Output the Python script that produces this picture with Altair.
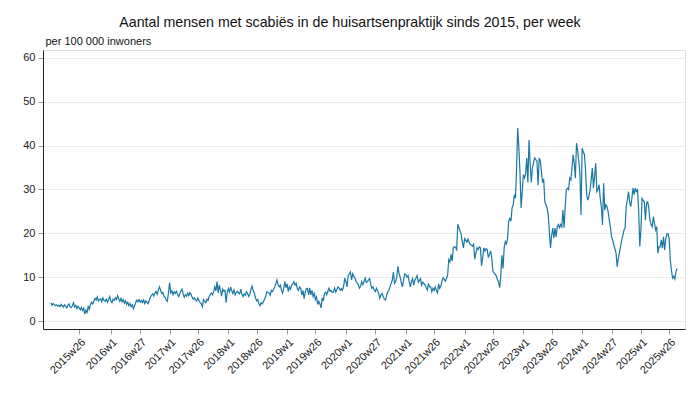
import altair as alt
import pandas as pd

years = [2015, 2016, 2017, 2018, 2019, 2020, 2021, 2022, 2023, 2024, 2025]

v2015 = [4.2, 3.6, 4.0, 3.8, 3.5, 3.7, 3.4, 3.6, 3.3, 3.8,
         3.5, 3.2, 3.7, 3.4, 3.0, 3.6, 3.9, 3.3, 3.1, 3.5,
         4.2, 3.2, 3.6, 2.8, 3.4, 3.0, 2.6, 3.1, 2.4, 2.9,
         1.6, 2.5, 2.0, 3.3, 2.7, 3.8, 4.3, 3.9, 4.6, 5.2,
         4.8, 5.5, 4.6, 4.9, 5.1, 4.4, 5.3, 4.7, 4.5, 5.0,
         4.3, 4.9, 5.6]
v2016 = [4.6, 4.2, 5.0, 4.7, 5.3, 4.9, 5.8, 5.1, 4.5, 5.2,
         4.4, 4.9, 4.1, 4.6, 3.8, 4.3, 3.5, 4.0, 3.3, 3.7,
         2.8, 3.5, 4.2, 4.8, 4.4, 4.9, 4.3, 4.7, 4.2, 4.8,
         4.0, 4.6, 4.3, 4.0, 4.8, 5.4, 5.9, 6.2, 5.7, 6.4,
         6.8, 6.1, 7.0, 7.8, 7.1, 6.3, 6.5, 5.7, 5.4, 4.8,
         4.5, 6.5]
v2017 = [8.8, 6.4, 6.9, 6.0, 6.7, 6.3, 6.8, 6.1, 5.6, 6.2,
         6.9, 7.3, 6.2, 5.4, 6.0, 5.7, 6.4, 5.8, 6.5, 6.1,
         5.4, 5.0, 5.3, 4.8, 4.6, 5.3, 4.7, 4.2, 4.0, 3.3,
         4.9, 4.5, 4.2, 5.0, 4.7, 5.6, 6.1, 6.4, 6.0, 6.7,
         7.8, 6.9, 9.0, 6.4, 8.2, 7.0, 5.7, 7.3, 6.8, 7.0,
         4.2, 6.6]
v2018 = [7.4, 6.6, 7.8, 6.9, 6.3, 7.1, 6.0, 6.5, 6.8, 6.4,
         6.2, 7.3, 6.1, 5.6, 6.2, 5.9, 6.7, 6.3, 5.6, 6.1,
         7.3, 8.0, 6.9, 6.4, 5.3, 4.6, 4.9, 3.9, 3.5, 4.2,
         3.9, 4.4, 5.0, 5.6, 6.7, 6.5, 6.4, 5.9, 7.0, 6.7,
         7.2, 7.8, 8.5, 9.4, 8.3, 7.8, 8.2, 7.0, 6.4, 7.5,
         9.0, 7.6]
v2019 = [8.5, 6.7, 7.8, 7.3, 8.2, 8.5, 9.0, 8.2, 8.6, 7.4,
         7.0, 7.8, 7.5, 6.0, 7.0, 5.1, 6.6, 7.4, 7.5, 6.0,
         7.5, 6.0, 7.0, 5.6, 6.3, 4.9, 5.5, 3.8, 4.5, 3.9,
         3.0, 5.3, 4.6, 6.3, 6.6, 6.0, 6.8, 7.5, 6.8, 7.0,
         6.5, 6.6, 7.5, 6.6, 7.2, 7.8, 7.5, 7.0, 7.4, 7.0,
         8.0, 9.8]
v2020 = [9.0, 7.8, 10.4, 10.8, 11.2, 9.4, 10.8, 10.2, 9.8, 9.0,
         8.7, 8.3, 7.5, 8.0, 9.0, 8.3, 9.0, 9.8, 8.8, 9.0,
         9.4, 9.7, 8.3, 7.5, 7.8, 7.1, 6.7, 7.5, 6.9, 6.3,
         5.2, 6.0, 6.3, 5.6, 5.0, 4.8, 5.9, 6.7, 7.0, 7.8,
         8.6, 9.3, 11.2, 8.6, 9.0, 10.0, 12.5, 10.8, 10.0, 8.8,
         7.8, 9.3, 10.8]
v2021 = [10.6, 10.0, 10.4, 9.0, 7.8, 9.0, 9.7, 8.2, 9.3, 9.8,
         10.4, 8.9, 9.3, 9.7, 8.2, 8.9, 8.6, 8.2, 7.6, 7.1,
         8.6, 7.8, 7.8, 6.7, 7.5, 7.0, 7.8, 7.0, 6.4, 8.5,
         7.5, 8.0, 9.1, 9.9, 9.5, 9.1, 9.7, 10.5, 14.0, 13.5,
         15.2, 13.7, 16.7, 17.0, 16.8, 16.3, 22.1, 21.4, 20.5, 19.9,
         18.0, 16.7]
v2022 = [18.8, 18.4, 18.0, 18.7, 18.0, 17.5, 17.3, 17.1, 17.5, 14.1,
         15.5, 16.7, 16.3, 16.9, 16.7, 12.6, 14.5, 16.7, 16.0, 16.5,
         16.3, 14.5, 15.2, 16.0, 14.5, 11.4, 11.0, 10.7, 10.3, 9.5,
         9.0, 7.6, 10.2, 15.0, 12.0, 16.7, 18.1, 17.6, 18.8, 22.7,
         23.4, 22.8, 25.8, 26.5, 28.8, 28.0, 34.9, 44.0, 39.5, 34.0,
         25.8, 29.5]
v2023 = [33.4, 32.7, 33.5, 37.2, 31.6, 41.3, 36.0, 31.6, 34.9, 36.1,
         37.2, 36.8, 36.5, 31.0, 37.2, 36.5, 34.0, 31.6, 32.4, 27.2,
         26.5, 25.8, 24.2, 20.4, 16.7, 19.5, 21.2, 18.9, 21.2, 19.2,
         21.5, 22.0, 21.3, 22.0, 21.5, 25.3, 21.3, 26.0, 29.9, 30.3,
         30.0, 32.6, 32.2, 34.9, 37.9, 36.0, 32.6, 40.6, 39.0, 36.5,
         33.7, 24.2]
v2024 = [39.4, 38.6, 38.0, 34.5, 28.8, 27.6, 28.5, 29.9, 32.2, 34.9,
         30.3, 33.0, 36.0, 29.5, 30.0, 31.1, 28.0, 26.1, 21.9, 31.4,
         25.3, 26.5, 26.1, 24.9, 23.0, 21.5, 19.2, 18.5, 17.4, 16.5,
         15.5, 12.4, 14.3, 15.6, 16.9, 18.5, 19.5, 20.8, 21.2, 26.1,
         27.6, 29.5, 27.2, 26.1, 28.0, 30.3, 28.8, 30.3, 29.5, 29.9,
         25.3, 17.0]
v2025 = [20.8, 28.0, 27.5, 27.2, 23.0, 26.9, 27.2, 25.7, 23.0, 22.0,
         21.5, 23.8, 22.3, 20.8, 21.5, 15.5, 16.9, 16.9, 18.5, 16.6,
         19.2, 16.2, 18.8, 19.9, 19.9, 18.8, 13.9, 11.6, 9.8, 10.2,
         9.6, 11.3, 12.0]

series = [v2015, v2016, v2017, v2018, v2019, v2020, v2021, v2022, v2023, v2024, v2025]

tick_labels = ["2015w26", "2016w1", "2016w27", "2017w1", "2017w26", "2018w1",
               "2018w26", "2019w1", "2019w26", "2020w1", "2020w27", "2021w1",
               "2021w26", "2022w1", "2022w26", "2023w1", "2023w26", "2024w1",
               "2024w27", "2025w1", "2025w26"]
y_ticks = [0, 10, 20, 30, 40, 50, 60]

weeks, vals = [], []
for yr, vs in zip(years, series):
    for i, v in enumerate(vs):
        weeks.append(f"{yr}w{i + 1}")
        vals.append(v)
df = pd.DataFrame({"idx": list(range(len(weeks))), "week": weeks, "value": vals})

tick_idx = [weeks.index(t) for t in tick_labels]
label_expr = "[" + ",".join(f"'{t}'" for t in tick_labels) + "][indexof([" + \
    ",".join(str(i) for i in tick_idx) + "], datum.value)]"

FONT = "Liberation Sans"
n = len(weeks)

chart = alt.Chart(df).mark_line(color="#1a78a3", strokeWidth=1.2).encode(
    x=alt.X(
        "idx:Q",
        scale=alt.Scale(domain=[-7, n - 1 + 7], nice=False, zero=False),
        axis=alt.Axis(
            values=tick_idx, labelExpr=label_expr, title=None, labelAngle=-45,
            labelFontSize=11, labelFont=FONT, labelColor="#222",
            tickSize=5, tickColor="#999", domainColor="#222",
            labelPadding=2, grid=False, labelOverlap=False, labelFlush=False,
        ),
    ),
    y=alt.Y(
        "value:Q",
        scale=alt.Scale(domain=[-1.8, 61.8], nice=False, zero=False),
        axis=alt.Axis(
            values=y_ticks, title="per 100 000 inwoners", titleAngle=0,
            titleAlign="left", titleBaseline="middle", titleX=2, titleY=-9,
            titleFont=FONT, titleFontSize=11, titleFontWeight="normal",
            titleColor="#111",
            labelFontSize=11, labelFont=FONT, labelColor="#222",
            tickSize=5, tickColor="#999", domainColor="#222",
            grid=True, gridColor="#ebebeb", labelPadding=3,
        ),
    ),
    tooltip=["week:N", "value:Q"],
).properties(
    width=642,
    height=279,
    title=alt.TitleParams(
        text="Aantal mensen met scabiës in de huisartsenpraktijk sinds 2015, per week",
        font=FONT, fontSize=14.2, fontWeight="normal", color="#111",
        anchor="middle", frame="group", dx=-14, offset=5,
    ),
    autosize=alt.AutoSizeParams(type="none"),
    padding={"left": 35, "top": 42, "right": 7, "bottom": 58},
).configure_view(stroke=None).configure(background="white")

chart.save("out.html", embed_options={"renderer": "svg", "actions": False})
